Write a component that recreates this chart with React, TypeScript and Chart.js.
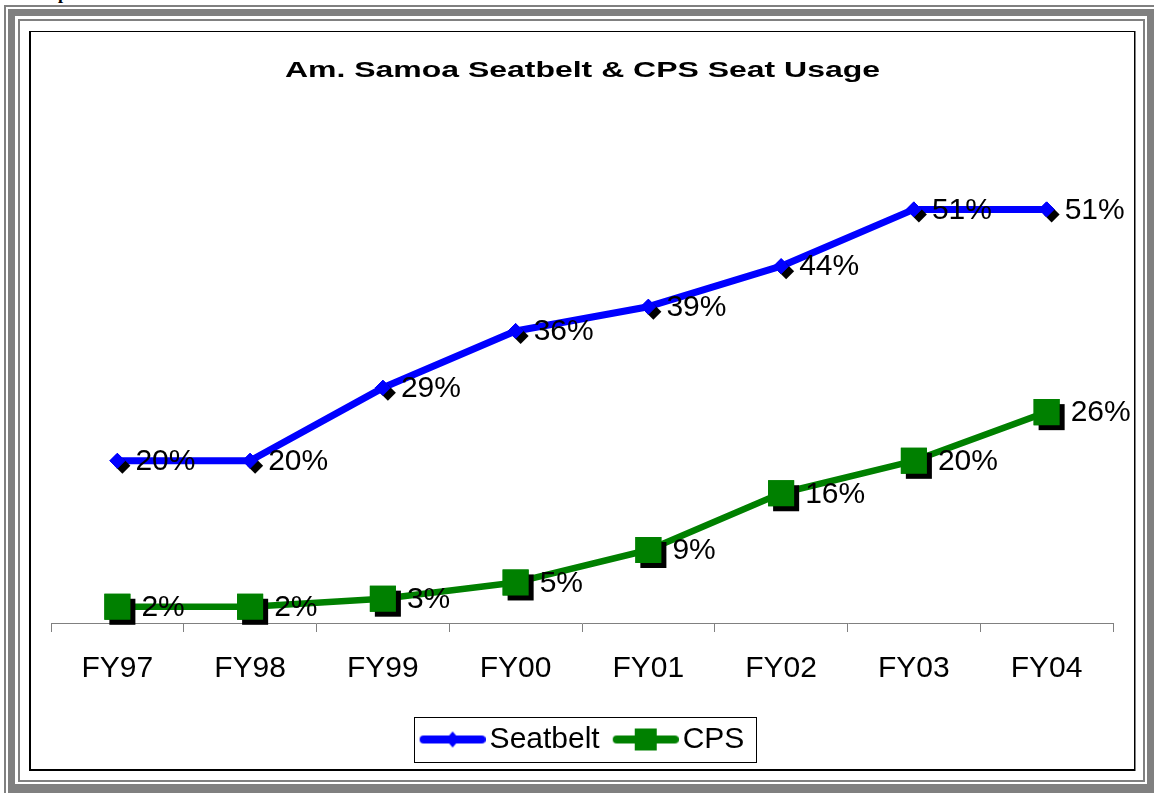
import React, { useEffect, useRef } from 'react';
import { Chart, registerables } from 'chart.js';

Chart.register(...registerables);

// ---- data ----
const TITLE = 'Am. Samoa Seatbelt & CPS Seat Usage';
const categories = ['FY97', 'FY98', 'FY99', 'FY00', 'FY01', 'FY02', 'FY03', 'FY04'];
const seatbeltValues = [20, 20, 29, 36, 39, 44, 51, 51];
const cpsValues = [2, 2, 3, 5, 9, 16, 20, 26];
const seriesNames = ['Seatbelt', 'CPS'];
const Y_MIN = 0;
const Y_MAX = 60;

// ---- style ----
const FONT = '"Liberation Sans", Arial, Helvetica, sans-serif';
const BLUE = '#0000FF';
const GREEN = '#008000';
const GRAY = '#808080';
const LABEL_OFFSETS = [18, 24];
const LABEL_DY = 1;
const SHADOW_DX = 5;
const SHADOW_DY = 5;
const TITLE_WIDTH = 595;
const TITLE_Y = 38.5;

function makeLegendIcon(color: string, shape: 'diamond' | 'square') {
  const c = document.createElement('canvas');
  c.width = 77;
  c.height = 26;
  const g = c.getContext('2d')!;
  g.strokeStyle = color;
  g.lineWidth = 8;
  g.lineCap = 'round';
  g.beginPath();
  g.moveTo(15, 13);
  g.lineTo(73, 13);
  g.stroke();
  g.fillStyle = color;
  const cx = 44;
  const cy = 13;
  g.beginPath();
  if (shape === 'diamond') {
    g.moveTo(cx, cy - 8);
    g.lineTo(cx + 7, cy);
    g.lineTo(cx, cy + 8);
    g.lineTo(cx - 7, cy);
    g.closePath();
  } else {
    g.rect(cx - 11, cy - 11, 22, 22);
  }
  g.fill();
  return c;
}

const markerShadowPlugin = {
  id: 'markerShadow',
  afterDatasetsDraw(chart: any) {
    const ctx = chart.ctx;
    chart.data.datasets.forEach((_ds: any, i: number) => {
      const meta = chart.getDatasetMeta(i);
      if (meta.hidden) return;
      meta.data.forEach((pt: any) => {
        const o = pt.options;
        const x = pt.x + SHADOW_DX;
        const y = pt.y + SHADOW_DY;
        ctx.save();
        ctx.fillStyle = '#000';
        ctx.beginPath();
        if (o.pointStyle === 'rectRot') {
          const h = o.radius + o.borderWidth / 2;
          ctx.moveTo(x, y - h);
          ctx.lineTo(x + h, y);
          ctx.lineTo(x, y + h);
          ctx.lineTo(x - h, y);
          ctx.closePath();
        } else {
          const s = o.radius * Math.SQRT1_2 + o.borderWidth / 2;
          ctx.rect(x - s, y - s, 2 * s, 2 * s);
        }
        ctx.fill();
        ctx.restore();
        pt.draw(ctx, chart.chartArea);
      });
    });
  },
};

const dataLabelPlugin = {
  id: 'dataLabels',
  afterDatasetsDraw(chart: any) {
    const ctx = chart.ctx;
    ctx.save();
    ctx.font = `30px ${FONT}`;
    ctx.fillStyle = '#000';
    ctx.textAlign = 'left';
    ctx.textBaseline = 'middle';
    chart.data.datasets.forEach((ds: any, i: number) => {
      const meta = chart.getDatasetMeta(i);
      if (meta.hidden) return;
      meta.data.forEach((pt: any, j: number) => {
        ctx.fillText(`${ds.data[j]}%`, pt.x + LABEL_OFFSETS[i], pt.y + LABEL_DY);
      });
    });
    ctx.restore();
  },
};

const titlePlugin = {
  id: 'stretchedTitle',
  afterDraw(chart: any) {
    const ctx = chart.ctx;
    ctx.save();
    ctx.font = `bold 22px ${FONT}`;
    const w = ctx.measureText(TITLE).width;
    const sx = TITLE_WIDTH / w;
    ctx.translate(chart.width / 2, TITLE_Y);
    ctx.scale(sx, 1);
    ctx.fillStyle = '#000';
    ctx.textAlign = 'center';
    ctx.textBaseline = 'middle';
    ctx.fillText(TITLE, 0, 0);
    ctx.restore();
  },
};

const legendBorderPlugin = {
  id: 'legendBorder',
  afterDraw(chart: any) {
    const lg = chart.legend;
    const hb = lg && lg.legendHitBoxes;
    if (!hb || !hb.length) return;
    const last = hb[hb.length - 1];
    const left = Math.round(hb[0].left - 6);
    const right = Math.round(last.left + last.width + 12);
    const cy = hb[0].top + hb[0].height / 2;
    const top = Math.round(cy - 22.5);
    const ctx = chart.ctx;
    ctx.save();
    ctx.strokeStyle = '#000';
    ctx.lineWidth = 1;
    ctx.strokeRect(left + 0.5, top + 0.5, right - left, 45);
    ctx.restore();
  },
};

export default function App() {
  const ref = useRef<HTMLCanvasElement>(null);

  useEffect(() => {
    if (!ref.current) return;
    const icons = [makeLegendIcon(BLUE, 'diamond'), makeLegendIcon(GREEN, 'square')];
    const chart = new Chart(ref.current, {
      type: 'line',
      data: {
        labels: categories,
        datasets: [
          {
            label: seriesNames[0],
            data: seatbeltValues,
            borderColor: BLUE,
            backgroundColor: BLUE,
            borderWidth: 7,
            borderJoinStyle: 'round',
            borderCapStyle: 'round',
            tension: 0,
            fill: false,
            pointStyle: 'rectRot',
            pointRadius: 7.5,
            pointBorderWidth: 1,
            pointBackgroundColor: BLUE,
            pointBorderColor: BLUE,
          },
          {
            label: seriesNames[1],
            data: cpsValues,
            borderColor: GREEN,
            backgroundColor: GREEN,
            borderWidth: 6.5,
            borderJoinStyle: 'round',
            borderCapStyle: 'round',
            tension: 0,
            fill: false,
            pointStyle: 'rect',
            pointRadius: 17,
            pointBorderWidth: 2,
            pointBackgroundColor: GREEN,
            pointBorderColor: GREEN,
          },
        ],
      } as any,
      options: {
        responsive: false,
        animation: false,
        events: [],
        layout: { padding: { top: 104.4, left: 20, right: 21, bottom: 4.5 } },
        scales: {
          x: {
            type: 'category',
            offset: true,
            grid: {
              display: true,
              offset: true,
              drawOnChartArea: false,
              drawTicks: true,
              tickLength: 9,
              color: GRAY,
              lineWidth: 1,
            },
            border: { display: true, color: GRAY, width: 1 },
            ticks: {
              color: '#000',
              font: { family: FONT, size: 30 },
              padding: 19,
              maxRotation: 0,
              autoSkip: false,
            },
            afterFit: (s: any) => {
              s.height += 5.5;
            },
          },
          y: { display: false, min: Y_MIN, max: Y_MAX },
        },
        plugins: {
          title: { display: false },
          tooltip: { enabled: false },
          legend: {
            display: true,
            position: 'bottom',
            labels: {
              usePointStyle: true,
              pointStyleWidth: 55,
              padding: 13,
              color: '#000',
              font: { family: FONT, size: 30 },
              generateLabels: (c: any) =>
                c.data.datasets.map((ds: any, i: number) => ({
                  text: ds.label,
                  pointStyle: icons[i],
                  datasetIndex: i,
                  hidden: false,
                  fillStyle: ds.borderColor,
                  strokeStyle: ds.borderColor,
                  lineWidth: 0,
                  fontColor: '#000',
                })),
            },
          },
        },
      } as any,
      plugins: [markerShadowPlugin, dataLabelPlugin, titlePlugin, legendBorderPlugin],
    });
    return () => chart.destroy();
  }, []);

  return (
    <div
      style={{
        position: 'absolute',
        left: 0,
        top: 0,
        width: 1154,
        height: 793,
        overflow: 'hidden',
        background: '#fff',
      }}
    >
      <span
        style={{
          position: 'absolute',
          left: 58,
          top: -16,
          font: 'bold 18px/18px "Liberation Serif", "Times New Roman", serif',
          color: '#000',
        }}
      >
        p
      </span>
      <div
        style={{
          position: 'absolute',
          left: 4,
          top: 5,
          width: 1200,
          height: 900,
          border: `2px solid ${GRAY}`,
          boxSizing: 'border-box',
        }}
      />
      <div
        style={{
          position: 'absolute',
          left: 8,
          top: 9,
          width: 1146,
          height: 785,
          borderStyle: 'solid',
          borderColor: GRAY,
          borderWidth: '7px 7px 10px 7px',
          boxSizing: 'border-box',
        }}
      />
      <div
        style={{
          position: 'absolute',
          left: 18,
          top: 19,
          width: 1127,
          height: 763,
          border: `2px solid ${GRAY}`,
          boxSizing: 'border-box',
        }}
      />
      <div
        style={{
          position: 'absolute',
          left: 29,
          top: 31,
          width: 1106,
          height: 740,
          borderStyle: 'solid',
          borderColor: '#000',
          borderWidth: '1px 1px 2px 2px',
          boxSizing: 'border-box',
          boxShadow: `1px 0 0 ${GRAY}`,
          background: '#fff',
        }}
      >
        <canvas
          ref={ref}
          width={1103}
          height={737}
          style={{ position: 'absolute', left: 0, top: 0, width: 1103, height: 737 }}
        />
      </div>
    </div>
  );
}
